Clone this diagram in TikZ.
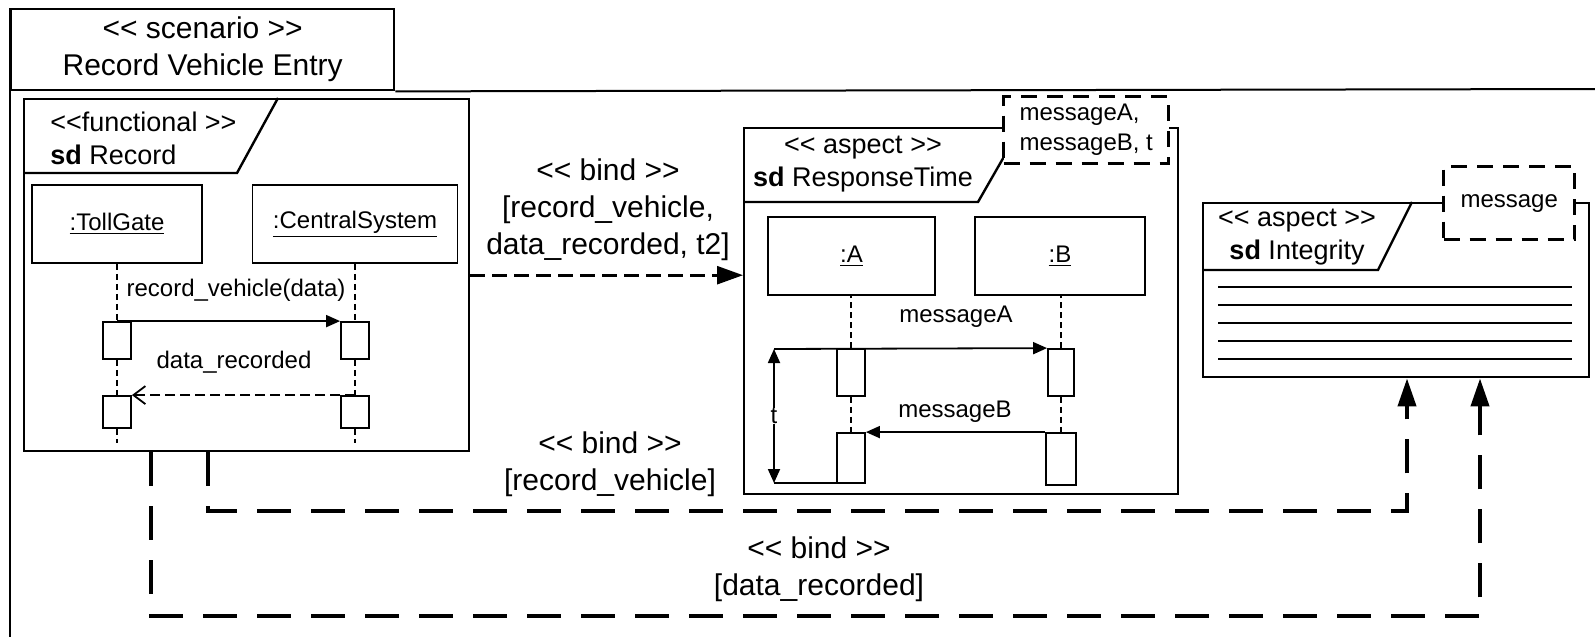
\documentclass[tikz,border=0pt]{standalone}
\usepackage{fontspec}
\setmainfont{Liberation Sans}
\usetikzlibrary{arrows.meta}

\newcommand{\stereoL}{<\kern0pt<}
\newcommand{\stereoR}{>\kern0pt>}
\newcommand{\bigtxt}{\fontsize{15}{18.5}\selectfont}
\newcommand{\tabtxt}{\fontsize{13.5}{16.5}\selectfont}
\newcommand{\msgtxt}{\fontsize{12}{15}\selectfont}

\begin{document}
\begin{tikzpicture}[x=0.5pt,y=0.5pt]
    \tikzstyle{every node}+=[inner sep=0pt]
    \tikzstyle{frame}=[draw=black, line width=1.2pt, anchor=north west]
    \tikzstyle{lifebox}=[draw=black, line width=0.9pt, minimum height=39pt, font=\msgtxt]
    \tikzstyle{actbox}=[draw=black, fill=white, line width=0.9pt, minimum width=14pt]
    \tikzstyle{lifeline}=[black, line width=0.9pt, dash pattern=on 3pt off 2pt]
    \tikzstyle{param}=[draw=black, fill=white, line width=1.7pt, dash pattern=on 8pt off 5pt, anchor=north west, font=\msgtxt, align=left]
    \tikzstyle{call}=[black, line width=0.9pt, -{Triangle[length=7pt,width=6pt]}]
    \tikzstyle{bindline}=[black, line width=2pt, dash pattern=on 17pt off 10pt, -{Triangle[length=14pt,width=9pt]}]
    \useasboundingbox (0,0) rectangle (1595,-637);
    % scenario
    \node[frame, minimum width=191.5pt, minimum height=40.5pt, font=\bigtxt, align=center] (scen) at (10,-8) {\stereoL\ scenario \stereoR\\Record Vehicle Entry};
    \draw[black, line width=1pt] (scen.north west) -- (10,-637);
    \draw[black, line width=1pt] (scen.south east) -- (1595,-89);
    % functional
    \node[frame, minimum width=222.5pt, minimum height=176pt] (rec) at (23,-98) {};
    \draw[black, line width=1.2pt] (23,-173) -- (237,-173) -- (278,-98);
    \node[anchor=west, align=left, font=\tabtxt] (rectab) at (50,-138) {\stereoL functional \stereoR\\\textbf{sd} Record};
    \node[lifebox, minimum width=85pt] (tg) at (117,-224) {\underline{:TollGate}};
    \node[lifebox, minimum width=102.5pt] (cs) at (355,-224) {\underline{:CentralSystem}};
    \node[actbox, minimum height=18.5pt] (tg1) at (117,-340.5) {};
    \node[actbox, minimum height=16pt] (tg2) at (117,-412) {};
    \node[actbox, minimum height=18.5pt] (cs1) at (355,-340.5) {};
    \node[actbox, minimum height=16pt] (cs2) at (355,-412) {};
    \draw[lifeline] (tg.south) -- (tg1.north) (tg1.south) -- (tg2.north) (tg2.south) -- ++(0,-14);
    \draw[lifeline] (cs.south) -- (cs1.north) (cs1.south) -- (cs2.north) (cs2.south) -- ++(0,-14);
    \draw[call] (tg1.north) -- (cs1.north west);
    \node[font=\msgtxt] (msg1) at (236,-290) {record\_vehicle(data)};
    \draw[black, line width=0.9pt, dash pattern=on 5pt off 2.5pt, -{Straight Barb[length=6pt,width=9pt]}] (cs2.north) -- (tg2.north east);
    \node[font=\msgtxt] (msg2) at (234,-362) {data\_recorded};
    % response time
    \node[frame, minimum width=217pt, minimum height=183pt] (rt) at (743,-127) {};
    \draw[black, line width=1.2pt] (743,-202) -- (978,-202) -- (1021,-127);
    \node[align=center, font=\tabtxt] (rttab) at (863,-164) {\stereoL\ aspect \stereoR\\\textbf{sd} ResponseTime};
    \node[param, minimum width=82.5pt, minimum height=33.5pt] (rtpar) at (1002,-95) {messageA,\\messageB, t};
    \node[lifebox, minimum width=83.5pt] (objA) at (851.5,-256) {\underline{:A}};
    \node[lifebox, minimum width=85pt] (objB) at (1060,-256) {\underline{:B}};
    \node[actbox, minimum height=23.5pt] (a1) at (851,-372.5) {};
    \node[actbox, minimum height=25pt] (a2) at (851,-458) {};
    \node[actbox, minimum height=23.5pt, minimum width=13pt] (b1) at (1061,-372.5) {};
    \node[actbox, minimum height=26pt, minimum width=15pt] (b2) at (1061,-459) {};
    \draw[lifeline] (a1.north) -- (a1 |- objA.south) (a1.south) -- (a2.north);
    \draw[lifeline] (b1.north) -- (b1 |- objB.south) (b1.south) -- (b2.north);
    \coordinate (ttop) at (774,-349);
    \coordinate (tbot) at (774,-483);
    \draw[call] (ttop) -- (b1.north west);
    \node[font=\msgtxt] (lblA) at (956,-317) {messageA};
    \draw[call] (b2.north west) -- (a2.north east);
    \node[font=\msgtxt] (lblB) at (955,-412) {messageB};
    \draw[black, line width=0.9pt] (tbot) -- (tbot -| a2.west);
    \draw[black, line width=0.9pt, {Triangle[length=7pt,width=6pt]}-{Triangle[length=7pt,width=6pt]}] (ttop) -- (tbot) node[midway, fill=white, font=\msgtxt] (tlbl) {t};
    % integrity
    \node[frame, minimum width=193pt, minimum height=87pt] (integ) at (1202,-202) {};
    \draw[black, line width=1.2pt] (1202,-270) -- (1378,-270) -- (1412,-202);
    \node[align=center, font=\tabtxt] (intab) at (1297,-237) {\stereoL\ aspect \stereoR\\\textbf{sd} Integrity};
    \node[param, minimum width=65.5pt, minimum height=36.5pt] (intpar) at (1442,-165) {message};
    \foreach \y in {287,305,323,341,359}
        \draw[black, line width=1pt] (1218,-\y) -- (1572,-\y);
    % bindings
    \draw[black, line width=1.3pt, dash pattern=on 7.5pt off 3.5pt, -{Triangle[length=13pt,width=9pt]}] (rec.east) -- (rec.east -| rt.west);
    \node[align=center, font=\bigtxt] (bind1) at (608,-210) {\stereoL\ bind \stereoR\\{}[record\_vehicle,\\data\_recorded, t2]};
    \draw[bindline] ([xshift=92.5pt]rec.south west) -- ++(0,-59) -| ([xshift=102.5pt]integ.south west);
    \node[align=center, font=\bigtxt] (bind2) at (610,-464) {\stereoL\ bind \stereoR\\{}[record\_vehicle]};
    \draw[bindline] ([xshift=64pt]rec.south west) -- ++(0,-164) -| ([xshift=139pt]integ.south west);
    \node[align=center, font=\bigtxt] (bind3) at (819,-569) {\stereoL\ bind \stereoR\\{}[data\_recorded]};
\end{tikzpicture}
\end{document}
